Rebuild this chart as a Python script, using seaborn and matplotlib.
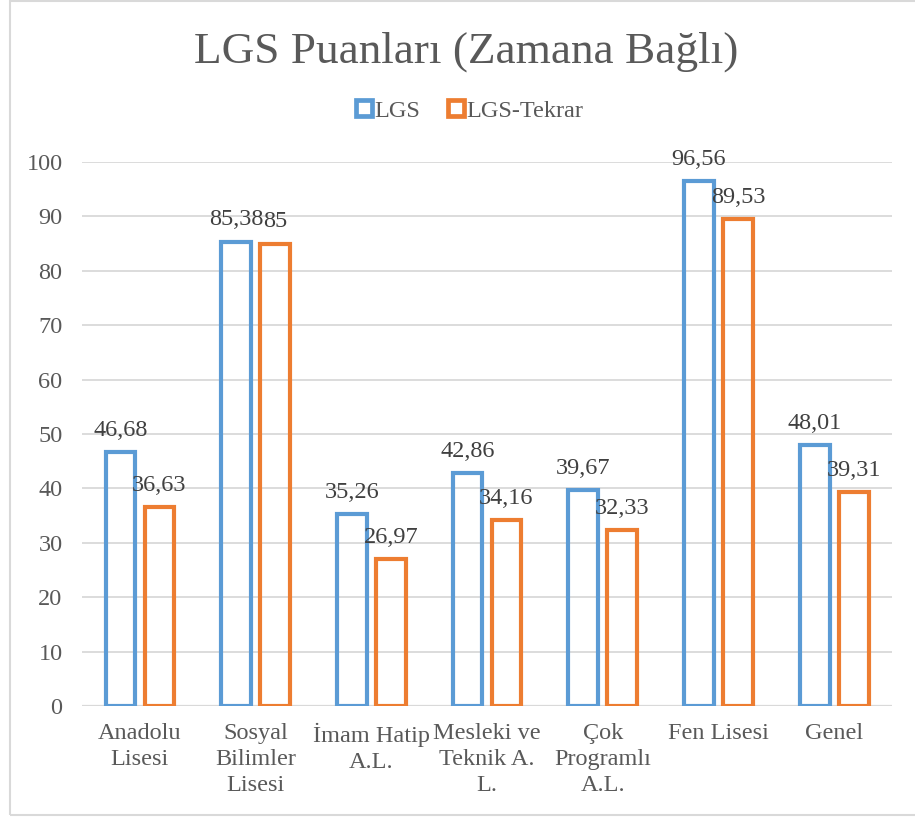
import matplotlib
matplotlib.use("Agg")
import matplotlib.pyplot as plt
import seaborn as sns
import pandas as pd
from matplotlib.lines import Line2D
from matplotlib.patches import Rectangle

categories = ["Anadolu\nLisesi", "Sosyal\nBilimler\nLisesi", "İmam Hatip\nA.L.",
              "Mesleki ve\nTeknik A.\nL.", "Çok\nProgramlı\nA.L.", "Fen Lisesi", "Genel"]
series_names = ["LGS", "LGS-Tekrar"]
lgs = [46.68, 85.38, 35.26, 42.86, 39.67, 96.56, 48.01]
lgs_tekrar = [36.63, 85.00, 26.97, 34.16, 32.33, 89.53, 39.31]
yticks = [0, 10, 20, 30, 40, 50, 60, 70, 80, 90, 100]
colors = ["#5B9BD5", "#ED7D31"]

df = pd.DataFrame({
    "cat": categories * 2,
    "series": [series_names[0]] * len(categories) + [series_names[1]] * len(categories),
    "value": lgs + lgs_tekrar,
})

sns.set_theme(style="white")
plt.rcParams["font.family"] = ["Liberation Serif", "DejaVu Serif"]

FS = 17.5

fig = plt.figure(figsize=(9.15, 8.19), dpi=100)
ax = fig.add_axes([0.0896, 0.138, 0.8854, 0.6642])

sns.barplot(data=df, x="cat", y="value", hue="series", order=categories,
            hue_order=series_names, palette=colors, fill=False, linewidth=3.0,
            width=0.674, gap=0.24, errorbar=None, legend=False, ax=ax)
for p in ax.patches:
    p.set_linewidth(3.0)

ax.set_ylim(0, 100)
ax.set_xlim(-0.5, len(categories) - 0.5)
ax.set_yticks(yticks)
ax.yaxis.grid(True, color="#D9D9D9", linewidth=1.3)
ax.set_axisbelow(True)
for s in ax.spines.values():
    s.set_visible(False)
ax.axhline(0, color="#D9D9D9", linewidth=1.6, zorder=0.5)
ax.set_xlabel("")
ax.set_ylabel("")
ax.tick_params(axis="y", length=0, pad=14, labelsize=FS, labelcolor="#595959")
ax.tick_params(axis="x", length=0, pad=12, labelsize=FS, labelcolor="#595959")
for t in ax.get_xticklabels():
    t.set_linespacing(1.32)

for cont in ax.containers:
    labels = [f"{v:.2f}".rstrip("0").rstrip(".").replace(".", ",") for v in cont.datavalues]
    ax.bar_label(cont, labels=labels, padding=8, fontsize=FS, color="#404040", clip_on=False)

fig.text(0.509, 0.937, "LGS Puanları (Zamana Bağlı)", ha="center", va="center",
         fontsize=32.6, color="#595959")

handles = [Line2D([], [], linestyle="none", marker="s", markersize=11,
                  markerfacecolor="white", markeredgecolor=c, markeredgewidth=3.4)
           for c in colors]
fig.legend(handles, series_names, loc="center", bbox_to_anchor=(0.513, 0.8645),
           ncol=2, frameon=False, fontsize=FS, labelcolor="#595959",
           handlelength=0.7, handletextpad=0.1, columnspacing=1.1)

fig.add_artist(Rectangle((10 / 915, 1 - 815 / 819), 1.2, (815 - 1) / 819,
                         transform=fig.transFigure, fill=False,
                         edgecolor="#D9D9D9", linewidth=1.5))

fig.savefig("out.png", dpi=100, facecolor="white")
